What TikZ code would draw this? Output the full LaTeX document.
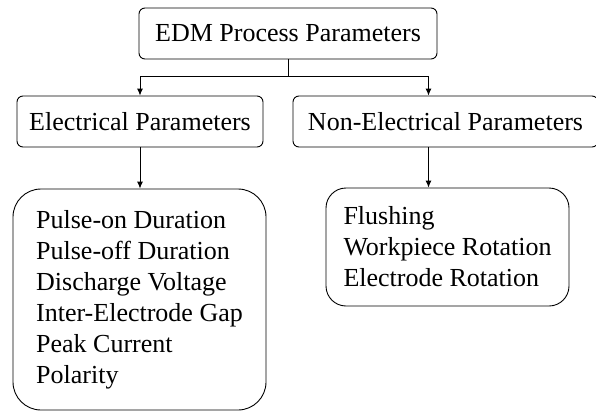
\documentclass[tikz,border=0pt]{standalone}
\usepackage{fontspec}
\setmainfont{Liberation Serif}
\usetikzlibrary{arrows.meta}

\begin{document}
\begin{tikzpicture}[x=1pt,y=-1pt,
  box/.style={draw,line width=0.9pt,rounded corners=6pt,inner sep=0pt,minimum height=51pt,font=\rmfamily\fontsize{26}{31}\selectfont},
  listbox/.style={box,align=left},
  arr/.style={-{Latex[length=7pt,width=6pt]},line width=0.9pt}]
\useasboundingbox (0,0) rectangle (596,412);

% header and the two groups
\node[box,minimum width=298pt] (edm) at (288,33.5) {EDM Process Parameters};
\node[box,minimum width=246pt] (elec) at (140,121.5) {Electrical Parameters};
\node[box,minimum width=305pt] (nonelec) at (445.5,121.5) {Non-Electrical Parameters};

% parameter lists
\node[listbox,minimum width=253pt,minimum height=221pt,rounded corners=28pt] (elecitems) at (139.5,299.5)
  {Pulse-on Duration\\Pulse-off Duration\\Discharge Voltage\\Inter-Electrode Gap\\Peak Current\\Polarity};
\node[listbox,minimum width=243pt,minimum height=118pt,rounded corners=20pt] (nonelecitems) at (447.5,247)
  {Flushing\\Workpiece Rotation\\Electrode Rotation};

\coordinate (split) at (288,76);
\draw[line width=0.9pt] (edm.south) -- (split);
\draw[arr] (split) -| (elec.north);
\draw[arr] (split) -| ([xshift=-17pt]nonelec.north);

\draw[arr] (elec.south) -- (elec.south |- elecitems.north);
\draw[arr] ([xshift=-17pt]nonelec.south) -- ([xshift=-17pt]nonelec.south |- nonelecitems.north);

\end{tikzpicture}
\end{document}
